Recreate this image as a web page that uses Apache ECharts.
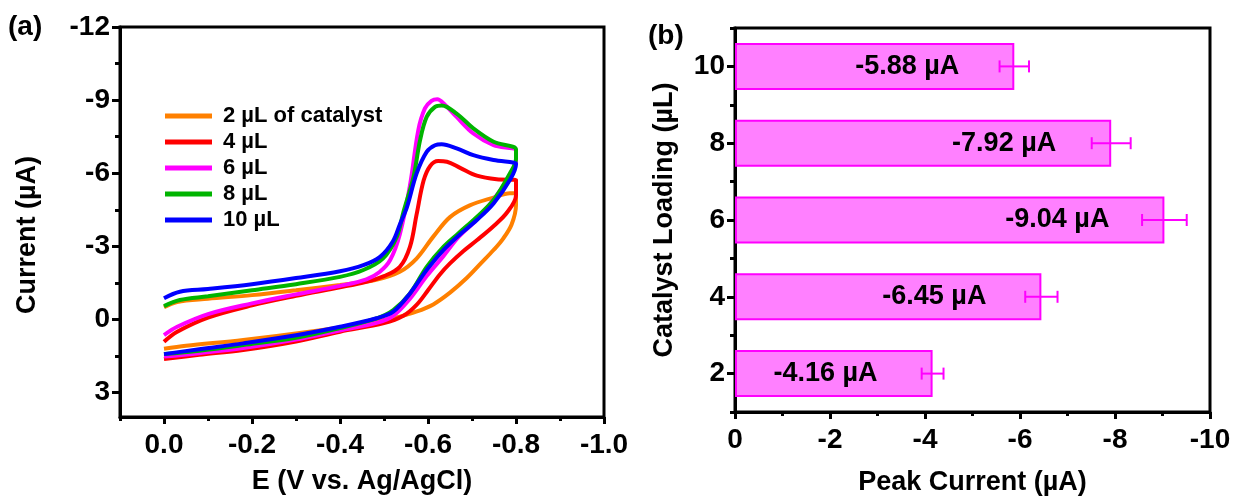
<!DOCTYPE html>
<html>
<head>
<meta charset="utf-8">
<script src="https://cdn.jsdelivr.net/npm/echarts@6/dist/echarts.min.js"></script>
<style>
html,body{margin:0;padding:0;background:#fff;}
#c{width:1236px;height:501px;}
</style>
</head>
<body>
<div id="c"></div>
<script>
// ---------- Panel (a): cyclic voltammograms, [E (V), I (µA)] in scan order ----------
const seriesNames = ['2 µL of catalyst', '4 µL', '6 µL', '8 µL', '10 µL'];
const cv2uL = [[0,-0.5],[-0.03,-0.72],[-0.1,-0.85],[-0.2,-1.0],[-0.3,-1.2],[-0.4,-1.42],[-0.48,-1.62],[-0.536,-1.96],[-0.574,-2.5],[-0.612,-3.4],[-0.65,-4.2],[-0.695,-4.68],[-0.749,-5.0],[-0.786,-5.18],[-0.8,-5.17],
  [-0.8,-4.7],[-0.79,-3.9],[-0.77,-3.3],[-0.749,-2.85],[-0.72,-2.3],[-0.688,-1.7],[-0.65,-1.1],[-0.612,-0.62],[-0.57,-0.3],[-0.536,-0.12],[-0.5,0.02],[-0.45,0.18],[-0.33,0.5],[-0.18,0.84],[-0.05,1.08],[0,1.2]];
const cv4uL = [[0,0.91],[-0.03,0.5],[-0.1,-0.08],[-0.2,-0.58],[-0.3,-0.97],[-0.4,-1.32],[-0.46,-1.55],[-0.5,-1.78],[-0.536,-2.16],[-0.559,-2.98],[-0.574,-4.3],[-0.59,-5.7],[-0.605,-6.3],[-0.623,-6.5],[-0.643,-6.47],[-0.673,-6.22],[-0.711,-5.9],[-0.756,-5.75],[-0.8,-5.72],
  [-0.8,-5.1],[-0.78,-4.4],[-0.75,-3.85],[-0.711,-3.25],[-0.68,-2.8],[-0.65,-2.3],[-0.627,-1.85],[-0.6,-1.2],[-0.574,-0.6],[-0.544,-0.15],[-0.5,0.15],[-0.4,0.5],[-0.3,0.9],[-0.18,1.25],[-0.08,1.45],[0,1.62]];
const cv6uL = [[0,0.64],[-0.03,0.3],[-0.1,-0.22],[-0.2,-0.66],[-0.3,-1.03],[-0.4,-1.38],[-0.46,-1.65],[-0.49,-1.95],[-0.514,-2.44],[-0.536,-3.5],[-0.559,-5.5],[-0.578,-7.77],[-0.593,-8.66],[-0.608,-8.97],[-0.621,-9.04],[-0.639,-8.8],[-0.665,-8.31],[-0.703,-7.63],[-0.749,-7.15],[-0.8,-6.92],
  [-0.8,-6.5],[-0.79,-6.0],[-0.75,-4.95],[-0.711,-4.1],[-0.67,-3.4],[-0.635,-2.6],[-0.597,-1.78],[-0.559,-0.85],[-0.521,-0.15],[-0.483,0.14],[-0.4,0.45],[-0.3,0.82],[-0.18,1.17],[-0.08,1.38],[0,1.52]];
const cv8uL = [[0,-0.55],[-0.036,-0.8],[-0.1,-0.95],[-0.2,-1.2],[-0.3,-1.45],[-0.4,-1.75],[-0.453,-2.03],[-0.498,-2.51],[-0.529,-3.39],[-0.544,-4.4],[-0.567,-5.85],[-0.582,-7.36],[-0.597,-8.31],[-0.616,-8.72],[-0.631,-8.78],[-0.665,-8.45],[-0.703,-7.84],[-0.749,-7.29],[-0.8,-6.98],
  [-0.8,-6.6],[-0.786,-5.99],[-0.749,-4.9],[-0.711,-4.21],[-0.67,-3.55],[-0.635,-2.98],[-0.597,-2.16],[-0.559,-1.07],[-0.521,-0.39],[-0.483,-0.05],[-0.4,0.35],[-0.3,0.75],[-0.18,1.05],[-0.08,1.28],[0,1.42]];
const cv10uL = [[0,-0.87],[-0.036,-1.14],[-0.1,-1.25],[-0.2,-1.45],[-0.3,-1.7],[-0.4,-1.98],[-0.453,-2.23],[-0.491,-2.57],[-0.52,-3.2],[-0.536,-3.9],[-0.552,-4.6],[-0.574,-5.99],[-0.597,-6.88],[-0.616,-7.15],[-0.631,-7.19],[-0.665,-7.02],[-0.703,-6.74],[-0.749,-6.54],[-0.8,-6.4],
  [-0.8,-6.37],[-0.786,-5.72],[-0.749,-4.76],[-0.711,-4.08],[-0.67,-3.45],[-0.635,-2.85],[-0.597,-2.03],[-0.559,-1.07],[-0.521,-0.32],[-0.483,-0.05],[-0.4,0.3],[-0.3,0.65],[-0.18,0.98],[-0.08,1.22],[0,1.42]];
const cvCurves = [cv2uL, cv4uL, cv6uL, cv8uL, cv10uL];
const cvColors = ['#ff8000', '#ff0000', '#ff00ff', '#00b400', '#0000ff'];

const eMajorTicks = [0, -0.2, -0.4, -0.6, -0.8, -1.0];
const eMinorTicks = [0.1, -0.1, -0.3, -0.5, -0.7, -0.9];
const iMajorTicks = [-12, -9, -6, -3, 0, 3];
const iMinorTicks = [-10.5, -7.5, -4.5, -1.5, 1.5];

// ---------- Panel (b): peak current vs catalyst loading ----------
const loadings = [2, 4, 6, 8, 10];
const peakCurrents = [-4.16, -6.45, -9.04, -7.92, -5.88];
const peakErrors = [0.23, 0.34, 0.47, 0.41, 0.31];
const pMajorTicks = [0, -2, -4, -6, -8, -10];
const pMinorTicks = [-1, -3, -5, -7, -9];

const FONT = 'Liberation Sans, Arial, sans-serif';
const lab = (size) => ({fontFamily: FONT, fontWeight: 'bold', fontSize: size, color: '#000'});

const chart = echarts.init(document.getElementById('c'), null, {renderer: 'canvas'});

const lineOn = {show: true, onZero: false, lineStyle: {color: '#000', width: 3}};
const lineOff = {show: false, onZero: false};
const tickStyle = {width: 3, color: '#000'};

const option = {
  backgroundColor: '#fff',
  animation: false,
  grid: [
    {left: 120, top: 27, width: 484, height: 390, show: true, borderColor: '#000', borderWidth: 3, backgroundColor: 'transparent'},
    {left: 735, top: 28, width: 475, height: 391, show: true, borderColor: '#000', borderWidth: 3, backgroundColor: 'transparent'}
  ],
  legend: {
    data: seriesNames,
    orient: 'vertical',
    left: 165, top: 105,
    padding: 0,
    itemWidth: 47, itemHeight: 5, itemGap: 4,
    icon: 'rect',
    textStyle: Object.assign(lab(22), {padding: [0, 0, 0, 6]})
  },
  xAxis: [
    {
      type: 'value', gridIndex: 0, position: 'bottom', min: -1.0, max: 0.1, inverse: true,
      axisLine: lineOn, splitLine: {show: false},
      axisTick: {show: true, length: 7, lineStyle: tickStyle, customValues: eMajorTicks},
      axisLabel: Object.assign(lab(28), {margin: 14, customValues: eMajorTicks, formatter: v => v.toFixed(1)}),
      name: 'E (V vs. Ag/AgCl)', nameLocation: 'middle', nameGap: 51, nameTextStyle: lab(27)
    },
    {
      type: 'value', gridIndex: 0, position: 'bottom', offset: 0, min: -1.0, max: 0.1, inverse: true,
      axisLine: lineOff, splitLine: {show: false}, axisLabel: {show: false},
      axisTick: {show: true, length: 4, lineStyle: tickStyle, customValues: eMinorTicks}
    },
    {
      type: 'value', gridIndex: 1, position: 'bottom', min: -10, max: 0, inverse: true,
      axisLine: lineOn, splitLine: {show: false},
      axisTick: {show: true, length: 7, lineStyle: tickStyle, customValues: pMajorTicks},
      axisLabel: Object.assign(lab(28), {margin: 14, customValues: pMajorTicks, formatter: v => String(v)}),
      name: 'Peak Current (µA)', nameLocation: 'middle', nameGap: 57, nameTextStyle: lab(27)
    },
    {
      type: 'value', gridIndex: 1, position: 'bottom', offset: 0, min: -10, max: 0, inverse: true,
      axisLine: lineOff, splitLine: {show: false}, axisLabel: {show: false},
      axisTick: {show: true, length: 4, lineStyle: tickStyle, customValues: pMinorTicks}
    }
  ],
  yAxis: [
    {
      type: 'value', gridIndex: 0, position: 'left', min: -12, max: 4, inverse: true,
      axisLine: lineOn, splitLine: {show: false},
      axisTick: {show: true, length: 8, lineStyle: tickStyle, customValues: iMajorTicks},
      axisLabel: Object.assign(lab(28), {margin: 10, customValues: iMajorTicks, formatter: v => String(v)}),
      name: 'Current (µA)', nameLocation: 'middle', nameGap: 79, nameRotate: 90,
      nameTextStyle: Object.assign(lab(27), {padding: [0, 26, 0, 0]})
    },
    {
      type: 'value', gridIndex: 0, position: 'left', offset: 0, min: -12, max: 4, inverse: true,
      axisLine: lineOff, splitLine: {show: false}, axisLabel: {show: false},
      axisTick: {show: true, length: 5, lineStyle: tickStyle, customValues: iMinorTicks}
    },
    {
      type: 'category', gridIndex: 1, position: 'left', data: loadings.map(String), boundaryGap: true,
      axisLine: lineOn, splitLine: {show: false},
      axisTick: {show: true, alignWithLabel: true, length: 8, lineStyle: tickStyle},
      axisLabel: Object.assign(lab(28), {margin: 10}),
      name: 'Catalyst Loading (µL)', nameLocation: 'middle', nameGap: 57, nameRotate: 90, nameTextStyle: lab(27)
    },
    {
      type: 'category', gridIndex: 1, position: 'left', offset: 0, data: loadings.map(String), boundaryGap: true,
      axisLine: lineOff, splitLine: {show: false}, axisLabel: {show: false},
      axisTick: {show: true, alignWithLabel: false, length: 5, lineStyle: tickStyle}
    }
  ],
  series: [
    ...cvCurves.map((d, i) => ({
      name: seriesNames[i], type: 'line', xAxisIndex: 0, yAxisIndex: 0,
      data: d, showSymbol: false, symbol: 'none', smooth: 0.35,
      color: cvColors[i],
      lineStyle: {width: 4, color: cvColors[i]}
    })),
    {
      type: 'bar', xAxisIndex: 2, yAxisIndex: 2,
      data: peakCurrents, barWidth: 47,
      itemStyle: {color: '#ff80ff', borderColor: '#ff00ff', borderWidth: 2},
      label: Object.assign(lab(27), {show: true, position: 'insideRight', distance: 55,
        formatter: p => p.value.toFixed(2) + ' µA'}),
      z: 2
    },
    {
      type: 'custom', xAxisIndex: 2, yAxisIndex: 2,
      data: peakCurrents.map((v, i) => [v, i, peakErrors[i]]),
      renderItem: function (params, api) {
        const v = api.value(0), idx = api.value(1), e = api.value(2);
        const p1 = api.coord([v - e, idx]);
        const p2 = api.coord([v + e, idx]);
        const h = 6;
        const st = {stroke: '#ff00ff', lineWidth: 2, fill: 'none'};
        return {type: 'group', children: [
          {type: 'line', shape: {x1: p1[0], y1: p1[1], x2: p2[0], y2: p2[1]}, style: st},
          {type: 'line', shape: {x1: p1[0], y1: p1[1] - h, x2: p1[0], y2: p1[1] + h}, style: st},
          {type: 'line', shape: {x1: p2[0], y1: p2[1] - h, x2: p2[0], y2: p2[1] + h}, style: st}
        ]};
      },
      z: 5
    }
  ],
  graphic: [
    {type: 'text', left: 8, top: 13, style: {text: '(a)', font: 'bold 28px ' + FONT, fill: '#000'}},
    {type: 'text', left: 648, top: 22, style: {text: '(b)', font: 'bold 28px ' + FONT, fill: '#000'}}
  ]
};
chart.setOption(option);
</script>
</body>
</html>
